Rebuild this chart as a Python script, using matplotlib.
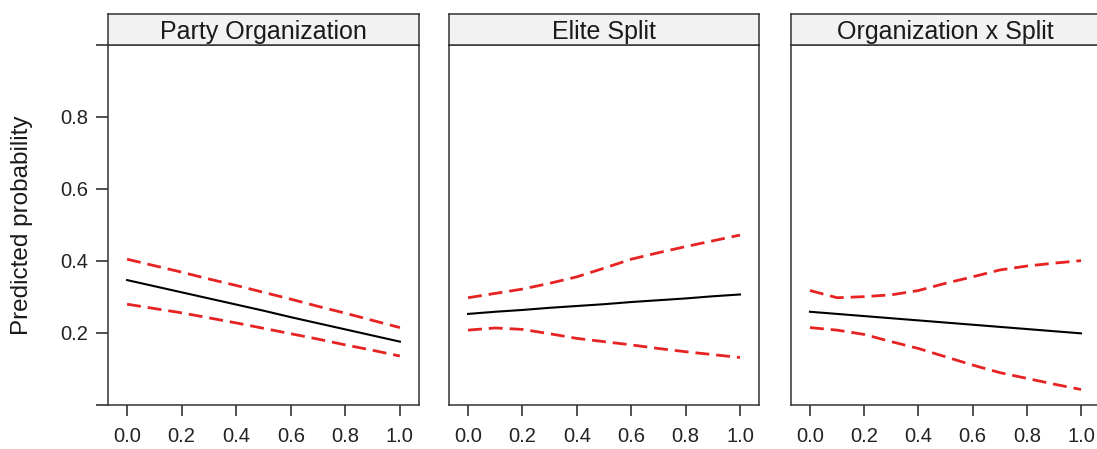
import numpy as np
import matplotlib
matplotlib.use("Agg")
import matplotlib.pyplot as plt

plt.rcParams['font.family'] = ['Liberation Sans', 'DejaVu Sans']

# x grid of the predictor (0 .. 1)
x = [0.0, 0.1, 0.2, 0.3, 0.4, 0.5, 0.6, 0.7, 0.8, 0.9, 1.0]

titles = ['Party Organization', 'Elite Split', 'Organization x Split']

# predicted probability and 95% bounds
org_fit = [0.347, 0.330, 0.313, 0.296, 0.279, 0.262, 0.244, 0.227, 0.210, 0.193, 0.176]
org_hi = [0.405, 0.387, 0.369, 0.350, 0.332, 0.313, 0.294, 0.274, 0.255, 0.235, 0.215]
org_lo = [0.280, 0.268, 0.256, 0.242, 0.228, 0.213, 0.198, 0.183, 0.167, 0.152, 0.136]

split_fit = [0.253, 0.259, 0.264, 0.270, 0.275, 0.280, 0.286, 0.291, 0.296, 0.302, 0.307]
split_hi = [0.298, 0.310, 0.322, 0.338, 0.356, 0.380, 0.405, 0.423, 0.440, 0.456, 0.472]
split_lo = [0.208, 0.214, 0.210, 0.198, 0.185, 0.176, 0.167, 0.157, 0.148, 0.140, 0.132]

inter_fit = [0.259, 0.253, 0.247, 0.241, 0.235, 0.229, 0.223, 0.217, 0.211, 0.205, 0.199]
inter_hi = [0.318, 0.298, 0.301, 0.306, 0.318, 0.338, 0.356, 0.375, 0.386, 0.394, 0.401]
inter_lo = [0.215, 0.208, 0.196, 0.176, 0.157, 0.134, 0.111, 0.090, 0.074, 0.058, 0.043]

fits = [org_fit, split_fit, inter_fit]
his = [org_hi, split_hi, inter_hi]
los = [org_lo, split_lo, inter_lo]

W, H = 1097, 449
fig = plt.figure(figsize=(W / 100, H / 100), dpi=100)

# panel pixel boxes: (left, right)
panels_px = [(108, 419), (449, 759), (791, 1100)]
top_px, bot_px, strip_top_px = 45, 405, 14
edge = '#333333'

for i, (l, r) in enumerate(panels_px):
    ax = fig.add_axes([l / W, (H - bot_px) / H, (r - l) / W, (bot_px - top_px) / H])
    ax.plot(x, his[i], color='#e62222', lw=2, dashes=(5, 2.5))
    ax.plot(x, los[i], color='#e62222', lw=2, dashes=(5, 2.5))
    ax.plot(x, fits[i], color='black', lw=1.5)
    ax.set_xlim(-0.07, 1.07)
    ax.set_ylim(0, 1)
    ax.set_xticks([0, 0.2, 0.4, 0.6, 0.8, 1.0])
    ax.set_xticklabels(['0.0', '0.2', '0.4', '0.6', '0.8', '1.0'])
    ax.tick_params(axis='x', direction='out', length=8, width=1.1, pad=8,
                   labelsize=14.5, colors='#222222')
    if i == 0:
        ax.set_yticks([0, 0.2, 0.4, 0.6, 0.8, 1.0])
        ax.set_yticklabels(['', '0.2', '0.4', '0.6', '0.8', ''])
        ax.tick_params(axis='y', direction='out', length=8.5, width=1.1, pad=6,
                       labelsize=14.5, colors='#222222')
    else:
        ax.set_yticks([])
    for s in ax.spines.values():
        s.set_color(edge)
        s.set_linewidth(1.1)

    # strip on top
    sax = fig.add_axes([l / W, (H - top_px) / H, (r - l) / W, (top_px - strip_top_px) / H])
    sax.set_facecolor('#f2f2f2')
    sax.set_xticks([])
    sax.set_yticks([])
    for s in sax.spines.values():
        s.set_color(edge)
        s.set_linewidth(1.1)
    sax.text(0.5, 0.42, titles[i], ha='center', va='center', fontsize=18,
             color='#1a1a1a', transform=sax.transAxes)

fig.text(22 / W, (H - 225) / H, 'Predicted probability', rotation=90,
         ha='center', va='center', fontsize=17.5, color='#1a1a1a')

fig.savefig('out.png', dpi=100)
